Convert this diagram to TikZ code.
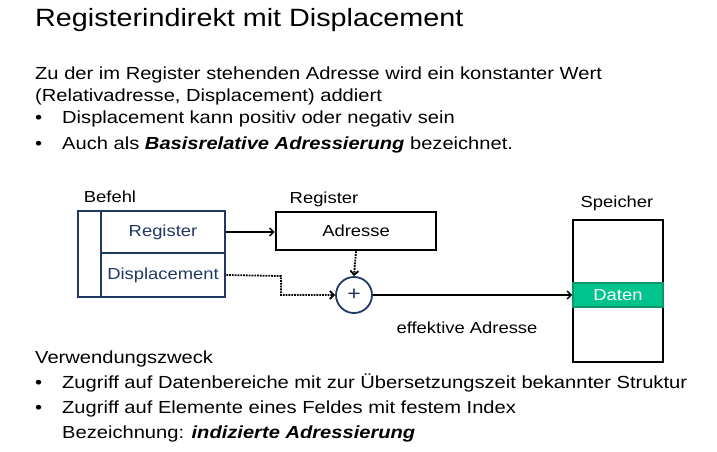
\documentclass[tikz,border=0pt]{standalone}
\usepackage{fontspec}
\setmainfont{Liberation Sans}[FakeStretch=1.15]
\usetikzlibrary{arrows.meta}
\definecolor{navy}{HTML}{1F3864}
\definecolor{datagreen}{HTML}{00C48C}
\definecolor{datarim}{HTML}{08966A}
\begin{document}
\begin{tikzpicture}[x=1pt,y=-1pt,
  txt/.style={anchor=base west,inner sep=0pt,font=\fontsize{17.5}{20}\selectfont},
  lbl/.style={inner sep=0pt,font=\fontsize{16}{18}\selectfont},
  cell/.style={draw=navy,line width=2.6pt,text=navy,inner sep=0pt,font=\fontsize{16}{18}\selectfont},
  flow/.style={line width=1.4pt,-{Straight Barb[length=4pt,width=8pt]}},
  dotflow/.style={flow,line width=1.8pt,densely dotted}]
\useasboundingbox (0,0) rectangle (717,452);
\node[anchor=base west,inner sep=0pt,font=\fontsize{25}{28}\selectfont] (titel) at (35,27) {Registerindirekt mit Displacement};
\node[txt] (z1) at (35,79) {Zu der im Register stehenden Adresse wird ein konstanter Wert};
\node[txt] (z2) at (35,101) {(Relativadresse, Displacement) addiert};
\node[txt] (b1) at (35,123) {•};
\node[txt] (z3) at (62,123) {Displacement kann positiv oder negativ sein};
\node[txt] (b2) at (35,149) {•};
\node[txt] (z4) at (62,149) {Auch als \textbf{\textit{Basisrelative Adressierung}} bezeichnet.};
\node[lbl] (befehllbl) at (110,197) {Befehl};
\node[cell,minimum width=23pt,minimum height=86pt] (leiste) at (89.5,254) {};
\node[cell,minimum width=124pt,minimum height=42pt] (regcell) at (163,232) {Register};
\node[cell,minimum width=124pt,minimum height=44pt] (dispcell) at (163,275) {Displacement};
\node[lbl] (reglbl) at (324,199) {Register};
\node[draw,line width=2.6pt,minimum width=160pt,minimum height=38pt,inner sep=0pt,font=\fontsize{16}{18}\selectfont] (adresse) at (356,231) {Adresse};
\node[circle,draw=navy,line width=1.8pt,text=navy,minimum size=36pt,inner sep=0pt,font=\fontsize{20}{22}\selectfont] (plus) at (354,295) {+};
\node[lbl] (speicherlbl) at (617,203) {Speicher};
\node[draw,line width=2.6pt,minimum width=90pt,minimum height=142pt,inner sep=0pt] (speicher) at (618,291) {};
\node[draw=datarim,fill=datagreen,line width=2pt,minimum width=90pt,minimum height=24pt,inner sep=0pt,text=white,font=\fontsize{16}{18}\selectfont] (daten) at (618,295) {Daten};
\node[lbl] (effadr) at (467,328) {effektive Adresse};
\coordinate (knick) at (281,276);
\draw[flow] (regcell.east) -- (regcell.east -| adresse.west);
\draw[dotflow] (adresse.south) -- (plus.north);
\draw[dotflow] (dispcell.east) -- (knick) |- (plus.west);
\draw[flow] (plus.east) -- (daten.west);
\node[txt] (z5) at (35,363) {Verwendungszweck};
\node[txt] (b3) at (35,388) {•};
\node[txt] (z6) at (62,388) {Zugriff auf Datenbereiche mit zur Übersetzungszeit bekannter Struktur};
\node[txt] (b4) at (35,413) {•};
\node[txt] (z7) at (62,413) {Zugriff auf Elemente eines Feldes mit festem Index};
\node[txt] (z8) at (62,438) {Bezeichnung: \textbf{\textit{indizierte Adressierung}}};
\end{tikzpicture}
\end{document}
